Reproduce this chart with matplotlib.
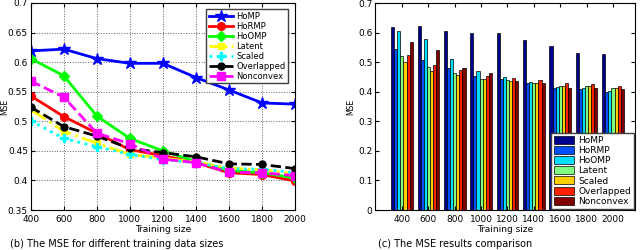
import numpy as np
import matplotlib
matplotlib.use("Agg")
import matplotlib.pyplot as plt

sizes = [400, 600, 800, 1000, 1200, 1400, 1600, 1800, 2000]
methods = ["HoMP", "HoRMP", "HoOMP", "Latent", "Scaled", "Overlapped", "Nonconvex"]

homp = [0.619, 0.622, 0.606, 0.598, 0.598, 0.574, 0.553, 0.531, 0.529]
hormp = [0.543, 0.508, 0.480, 0.452, 0.442, 0.430, 0.413, 0.410, 0.399]
hoomp = [0.606, 0.577, 0.509, 0.471, 0.450, 0.432, 0.417, 0.413, 0.404]
latent = [0.520, 0.483, 0.463, 0.444, 0.438, 0.431, 0.421, 0.418, 0.411]
scaled = [0.501, 0.471, 0.457, 0.444, 0.435, 0.430, 0.420, 0.419, 0.413]
overlapped = [0.524, 0.491, 0.475, 0.454, 0.447, 0.440, 0.428, 0.427, 0.420]
nonconvex = [0.568, 0.541, 0.480, 0.462, 0.436, 0.430, 0.414, 0.413, 0.408]

series = [homp, hormp, hoomp, latent, scaled, overlapped, nonconvex]

line_styles = [
    dict(color="#0000ff", ls="-", marker="*", ms=9),
    dict(color="#ff0000", ls="-", marker="o", ms=5.5, mfc="#ff0000", mec="#ff0000"),
    dict(color="#00ff00", ls="-", marker="D", ms=5),
    dict(color="#ffff00", ls="-.", marker="s", ms=5),
    dict(color="#00ffff", ls=":", marker="P", ms=6),
    dict(color="#000000", ls="--", marker="o", ms=5),
    dict(color="#ff00ff", ls="--", marker="s", ms=6),
]
bar_colors = ["#00008f", "#0050ff", "#00dfff", "#80ff80", "#ffcf00", "#ff2000", "#800000"]

plt.rcParams["font.family"] = "DejaVu Sans"
plt.rcParams["font.size"] = 6.5

fig = plt.figure(figsize=(6.4, 2.5), dpi=100)

# left: line plot
ax1 = fig.add_axes([0.048, 0.16, 0.413, 0.828])
for vals, name, st in zip(series, methods, line_styles):
    ax1.plot(sizes, vals, lw=2, label=name, **st)
ax1.set_xlim(400, 2000)
ax1.set_ylim(0.35, 0.7)
ax1.set_xticks(sizes)
ax1.set_yticks(np.arange(0.35, 0.701, 0.05))
ax1.set_yticklabels(["0.35", "0.4", "0.45", "0.5", "0.55", "0.6", "0.65", "0.7"])
ax1.grid(True, ls=":", color="#606060", lw=0.7)
ax1.tick_params(direction="in", top=True, right=True, labelsize=6.5, length=3, pad=2)
ax1.tick_params(axis="x", pad=3.5)
ax1.set_xlabel("Training size", fontsize=6.5, labelpad=1)
ax1.set_ylabel("MSE", fontsize=5.5)
ax1.yaxis.set_label_coords(-0.083, 0.5)
ax1.legend(loc="upper right", fontsize=6, handlelength=2.9, labelspacing=0.12,
           borderpad=0.3, handletextpad=0.4, fancybox=False, edgecolor="#404040",
           framealpha=1, bbox_to_anchor=(0.99, 0.99))

# right: bar chart
ax2 = fig.add_axes([0.586, 0.16, 0.406, 0.828])
pos = np.arange(1, len(sizes) + 1)
w = 0.117
for i, (vals, name, c) in enumerate(zip(series, methods, bar_colors)):
    ax2.bar(pos + (i - 3) * w, vals, width=w, color=c, edgecolor="black",
            linewidth=0.5, label=name)
ax2.set_xlim(-0.02, 9.83)
ax2.set_ylim(0, 0.7)
ax2.set_xticks(pos)
ax2.set_xticklabels([str(s) for s in sizes])
ax2.set_yticks(np.arange(0, 0.71, 0.1))
ax2.set_yticklabels(["0", "0.1", "0.2", "0.3", "0.4", "0.5", "0.6", "0.7"])
ax2.tick_params(direction="in", top=True, right=True, labelsize=6.5, length=3, pad=2)
ax2.tick_params(axis="x", pad=3.5)
ax2.set_xlabel("Training size", fontsize=6.5, labelpad=1)
ax2.set_ylabel("MSE", fontsize=5.5, labelpad=2)
ax2.legend(loc="lower right", fontsize=6.5, handlelength=2.3, handleheight=1.0,
           labelspacing=0.12, borderpad=0.3, handletextpad=0.4, fancybox=False,
           edgecolor="#404040", framealpha=1, borderaxespad=0.15)

# captions along the bottom edge
fig.text(0.015, 0.004, "(b) The MSE for different training data sizes",
         fontsize=7, va="bottom")
fig.text(0.59, 0.004, "(c) The MSE results comparison",
         fontsize=7, va="bottom")

fig.savefig("out.png", dpi=100)
